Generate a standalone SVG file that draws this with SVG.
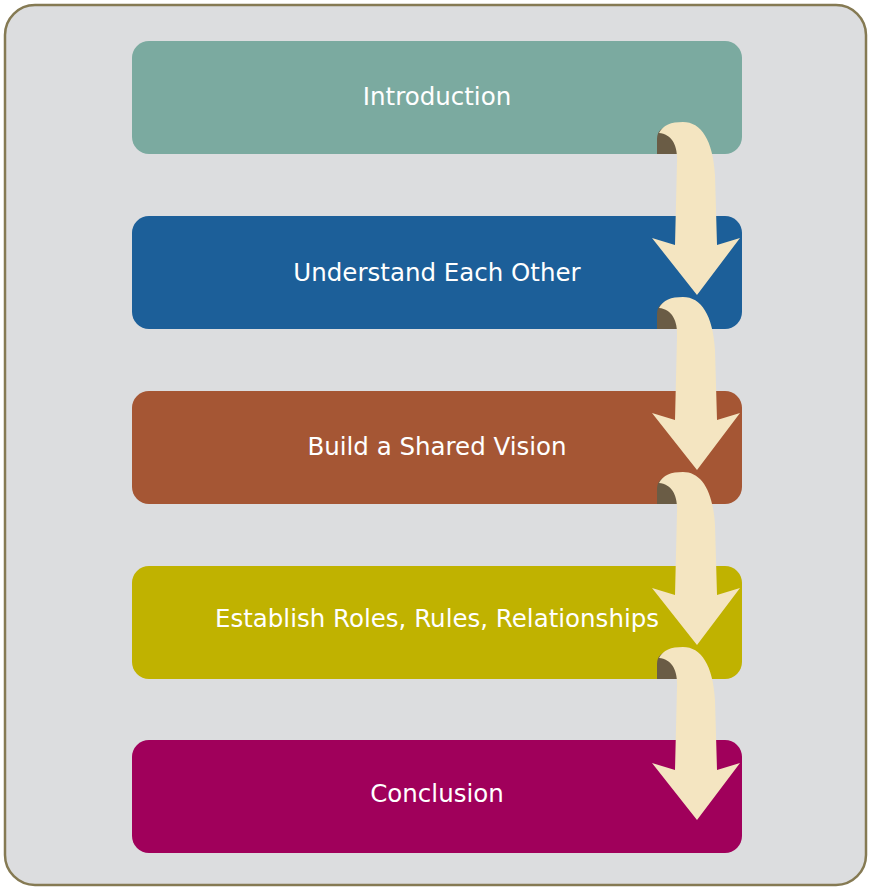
<svg xmlns="http://www.w3.org/2000/svg" width="871" height="890" viewBox="0 0 871 890">
  <defs>
    <style>
      .step { stroke: none; }
      .label { font-family: "DejaVu Sans", "Liberation Sans", sans-serif; font-size: 24.5px; fill: #FFFFFF; text-anchor: middle; dominant-baseline: central; }
      .curl { fill: #6A5C45; }
      .ribbon { fill: #F4E5C1; }
    </style>
    <!-- curled ribbon arrow, drawn for the first step and shifted for the others -->
    <g id="bentArrow">
      <path class="curl" d="M657,154 L657,139 C657,130 664,126 671,127 C677,131 680,140 679,154 Z"/>
      <path class="ribbon" d="M659,133 C663,125 671,122 683,122 C701,122 713,140 715,175 L717,245 L740,238 L697,295 L652,238 L675,245 L677,162 C678,146 672,134 659,133 Z"/>
    </g>
  </defs>

  <!-- outer frame -->
  <rect x="5" y="5" width="861" height="880" rx="30" ry="30" fill="#DCDDDF" stroke="#857A53" stroke-width="2.5"/>

  <g id="step-introduction">
    <rect class="step" x="132" y="41" width="610" height="113" rx="17" fill="#7BAAA0"/>
    <text class="label" x="437" y="96">Introduction</text>
  </g>
  <g id="step-understand">
    <rect class="step" x="132" y="216" width="610" height="113" rx="17" fill="#1C5F99"/>
    <text class="label" x="437" y="272">Understand Each Other</text>
  </g>
  <g id="step-vision">
    <rect class="step" x="132" y="391" width="610" height="113" rx="17" fill="#A55634"/>
    <text class="label" x="437" y="446">Build a Shared Vision</text>
  </g>
  <g id="step-roles">
    <rect class="step" x="132" y="566" width="610" height="113" rx="17" fill="#C0B200"/>
    <text class="label" x="437" y="618">Establish Roles, Rules, Relationships</text>
  </g>
  <g id="step-conclusion">
    <rect class="step" x="132" y="740" width="610" height="113" rx="17" fill="#A0005B"/>
    <text class="label" x="437" y="793">Conclusion</text>
  </g>

  <g id="connectors">
    <use href="#bentArrow"/>
    <use href="#bentArrow" transform="translate(0,175)"/>
    <use href="#bentArrow" transform="translate(0,350)"/>
    <use href="#bentArrow" transform="translate(0,525)"/>
  </g>
</svg>
